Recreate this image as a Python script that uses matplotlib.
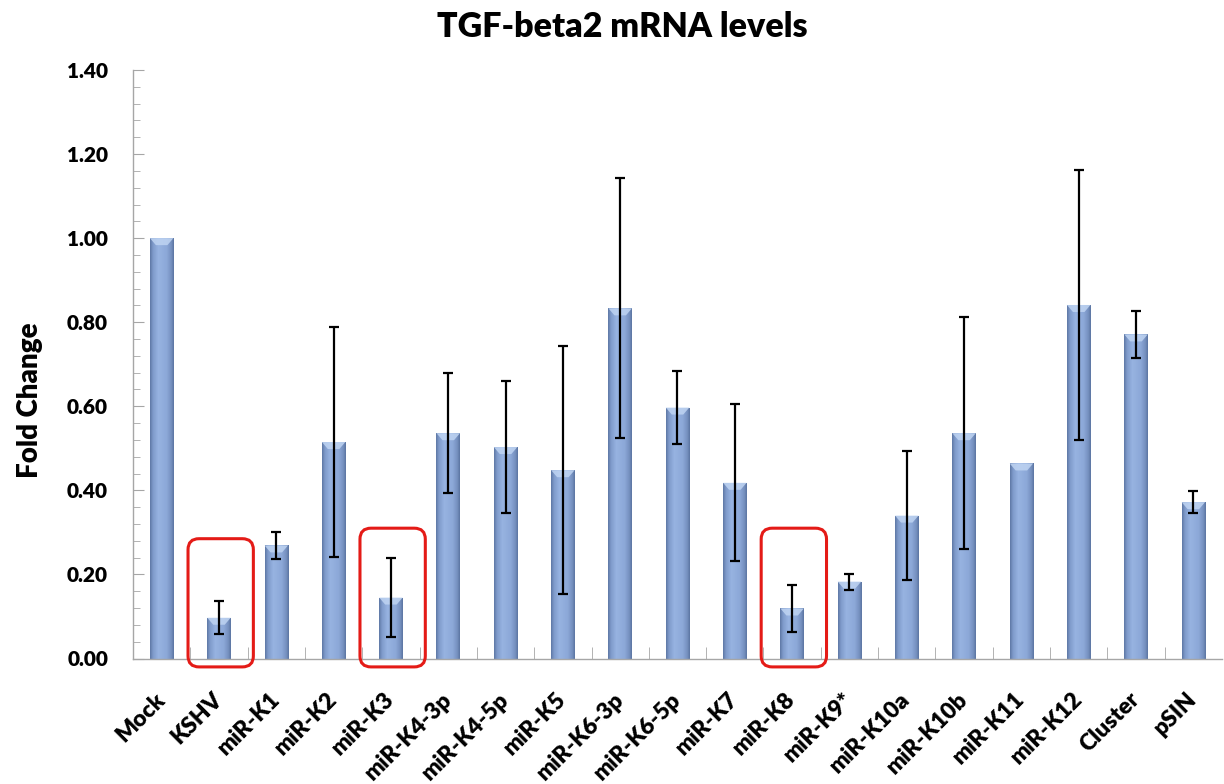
import numpy as np
import matplotlib
matplotlib.use("Agg")
import matplotlib.pyplot as plt
from matplotlib.patches import FancyBboxPatch, Polygon
from matplotlib.transforms import IdentityTransform
from matplotlib.colors import LinearSegmentedColormap
from matplotlib.ticker import MultipleLocator, FixedLocator

# data
labels = ["Mock", "KSHV", "miR-K1", "miR-K2", "miR-K3", "miR-K4-3p", "miR-K4-5p",
          "miR-K5", "miR-K6-3p", "miR-K6-5p", "miR-K7", "miR-K8", "miR-K9*",
          "miR-K10a", "miR-K10b", "miR-K11", "miR-K12", "Cluster", "pSIN"]
fold = [1.00, 0.097, 0.269, 0.515, 0.145, 0.536, 0.503, 0.448, 0.833, 0.597,
        0.418, 0.119, 0.183, 0.340, 0.536, 0.464, 0.841, 0.771, 0.372]
err = [0.0, 0.039, 0.033, 0.273, 0.094, 0.143, 0.157, 0.295, 0.309, 0.087,
       0.187, 0.057, 0.019, 0.153, 0.276, 0.0, 0.321, 0.056, 0.027]
boxed = ["KSHV", "miR-K3", "miR-K8"]
box_top = [0.285, 0.31, 0.31]

plt.rcParams['font.family'] = ['Lato', 'DejaVu Sans']
plt.rcParams['font.weight'] = 'heavy'

W, H = 1224, 784
fig = plt.figure(figsize=(W / 100, H / 100), dpi=100)
ax = fig.add_axes([133 / W, (H - 658.5) / H, (1222 - 133) / W, 588.5 / H])

x = np.arange(len(labels))
bw = 0.41
bars = ax.bar(x, fold, width=bw, color="#8BA7D6", zorder=2)

ax.set_xlim(-0.5, len(labels) - 0.5)
ax.set_ylim(0, 1.4)

# horizontal shading like the excel bevel bars
grad_cm = LinearSegmentedColormap.from_list(
    "bev", [(0, "#5E78A6"), (0.12, "#7F9BCB"), (0.35, "#97B3E1"),
            (0.7, "#8CA8D8"), (0.9, "#7590BF"), (1, "#5C75A2")])
grad = np.linspace(0, 1, 64).reshape(1, -1)
px_x = 1.0 / (ax.transData.transform((1, 0))[0] - ax.transData.transform((0, 0))[0])
px_y = 1.0 / (ax.transData.transform((0, 1))[1] - ax.transData.transform((0, 0))[1])
for b in bars:
    x0, x1, h = b.get_x(), b.get_x() + b.get_width(), b.get_height()
    im = ax.imshow(grad, extent=[x0, x1, 0, h], aspect='auto', cmap=grad_cm,
                   zorder=2.1, interpolation='bilinear')
    im.set_clip_path(b)
    # light bevel on the top edge
    ax.add_patch(Polygon([(x0, h), (x1, h), (x1 - 6 * px_x, h - 7 * px_y),
                          (x0 + 6 * px_x, h - 7 * px_y)], closed=True,
                         facecolor='#BFD4F2', edgecolor='none', alpha=0.85, zorder=2.2))

yerr = np.array(err)
m = yerr > 0
ax.errorbar(x[m], np.array(fold)[m], yerr=yerr[m], fmt='none', ecolor='black',
            elinewidth=1.6, capsize=3.3, capthick=1.6, zorder=3)

for s in ['top', 'right']:
    ax.spines[s].set_visible(False)
for s in ['left', 'bottom']:
    ax.spines[s].set_color('#A6A6A6')
    ax.spines[s].set_linewidth(1.0)

ax.yaxis.set_major_locator(MultipleLocator(0.2))
ax.yaxis.set_minor_locator(MultipleLocator(0.04))
ax.set_yticklabels([f"{v:.2f}" for v in ax.get_yticks()])
ax.tick_params(axis='y', which='major', direction='in', length=8, color='#A6A6A6',
               labelsize=15, pad=18)
ax.tick_params(axis='y', which='minor', direction='in', length=5, color='#A6A6A6')

ax.xaxis.set_major_locator(FixedLocator(x))
ax.xaxis.set_minor_locator(FixedLocator(x[:-1] + 0.5))
ax.set_xticklabels(labels, rotation=45, ha='right', va='center',
                   rotation_mode='anchor', fontsize=16.5)
ax.tick_params(axis='x', which='major', length=0, pad=27)
ax.tick_params(axis='x', which='minor', direction='in', length=9, color='#A6A6A6')

fig.text(30 / W, 1 - 400 / H, "Fold Change", rotation=90, ha='center', va='center',
         fontsize=20, fontweight='heavy')
fig.text(622 / W, 1 - 27 / H, "TGF-beta2 mRNA levels", ha='center', va='center',
         fontsize=24.5, fontweight='heavy')

# red rounded boxes around the highlighted bars
for name, top in zip(boxed, box_top):
    i = labels.index(name)
    (x0, y0) = ax.transData.transform((i - 0.54, -0.02))
    (x1, y1) = ax.transData.transform((i + 0.6, top))
    fig.add_artist(FancyBboxPatch((x0, y0), x1 - x0, y1 - y0,
                                  boxstyle="round,pad=0,rounding_size=11",
                                  transform=IdentityTransform(), fill=False,
                                  edgecolor='#E41B17', linewidth=2.2, zorder=5))

fig.savefig("out.png", dpi=100)
